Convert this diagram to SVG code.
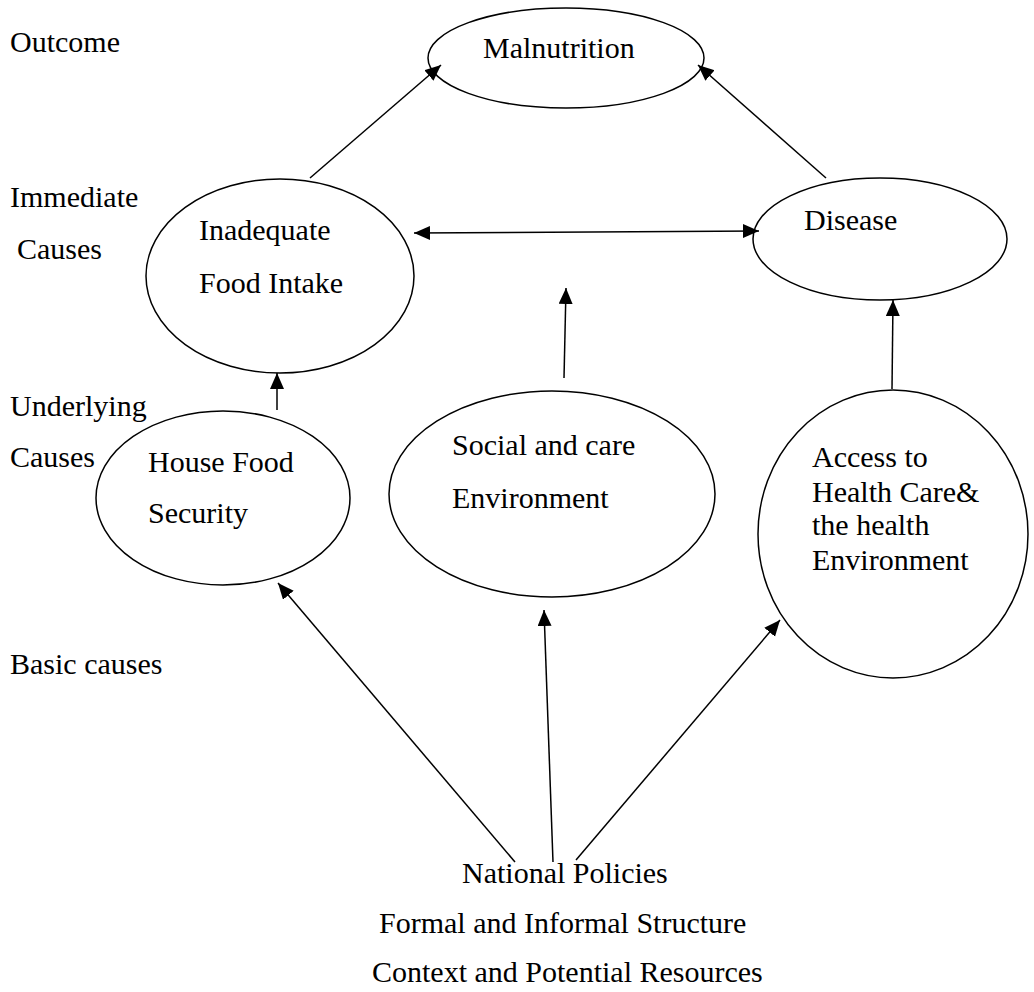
<svg xmlns="http://www.w3.org/2000/svg" width="1034" height="992" viewBox="0 0 1034 992">
<style>
text{font-family:"Liberation Serif","Times New Roman",serif;font-size:30px;fill:#000}
ellipse{fill:#fff;stroke:#000;stroke-width:1.5}
line{stroke:#000;stroke-width:1.5}
</style>
<defs>
<marker id="ah" markerUnits="userSpaceOnUse" markerWidth="18" markerHeight="16" refX="16" refY="7" orient="auto-start-reverse">
<path d="M0,0 L16,7 L0,14 z" fill="#000"/>
</marker>
</defs>
<rect width="1034" height="992" fill="#fff"/>
<g id="levels">
<text x="10" y="52">Outcome</text>
<text x="10" y="207">Immediate</text>
<text x="17" y="259">Causes</text>
<text x="10" y="416">Underlying</text>
<text x="10" y="467">Causes</text>
<text x="10" y="674">Basic causes</text>
</g>
<g id="malnutrition">
<ellipse cx="566" cy="58" rx="138" ry="50"/>
<text x="483" y="58">Malnutrition</text>
</g>
<g id="inadequate">
<ellipse cx="280" cy="276" rx="134" ry="97"/>
<text x="199" y="240">Inadequate</text>
<text x="199" y="293">Food Intake</text>
</g>
<g id="disease">
<ellipse cx="880" cy="239" rx="127" ry="61"/>
<text x="804" y="230">Disease</text>
</g>
<g id="house">
<ellipse cx="223" cy="498" rx="127" ry="87"/>
<text x="148" y="472">House Food</text>
<text x="148" y="523">Security</text>
</g>
<g id="social">
<ellipse cx="552" cy="494" rx="163" ry="103"/>
<text x="452" y="455">Social and care</text>
<text x="452" y="508">Environment</text>
</g>
<g id="access">
<ellipse cx="893" cy="534" rx="135" ry="144"/>
<text x="812" y="467">Access to</text>
<text x="812" y="502">Health Care&amp;</text>
<text x="812" y="535">the health</text>
<text x="812" y="570">Environment</text>
</g>
<g id="national">
<text x="462" y="883">National Policies</text>
<text x="379" y="933">Formal and Informal Structure</text>
<text x="372" y="982">Context and Potential Resources</text>
</g>
<g id="connectors">
<line x1="310" y1="178" x2="441" y2="65" marker-end="url(#ah)"/>
<line x1="826" y1="178" x2="698" y2="65" marker-end="url(#ah)"/>
<line x1="414" y1="233" x2="759" y2="231" marker-start="url(#ah)" marker-end="url(#ah)"/>
<line x1="564" y1="378" x2="566" y2="288" marker-end="url(#ah)"/>
<line x1="892" y1="389" x2="893" y2="300" marker-end="url(#ah)"/>
<line x1="277" y1="410" x2="277" y2="373" marker-end="url(#ah)"/>
<line x1="515" y1="862" x2="278" y2="583" marker-end="url(#ah)"/>
<line x1="553" y1="862" x2="544" y2="610" marker-end="url(#ah)"/>
<line x1="576" y1="860" x2="780" y2="620" marker-end="url(#ah)"/>
</g>
</svg>
